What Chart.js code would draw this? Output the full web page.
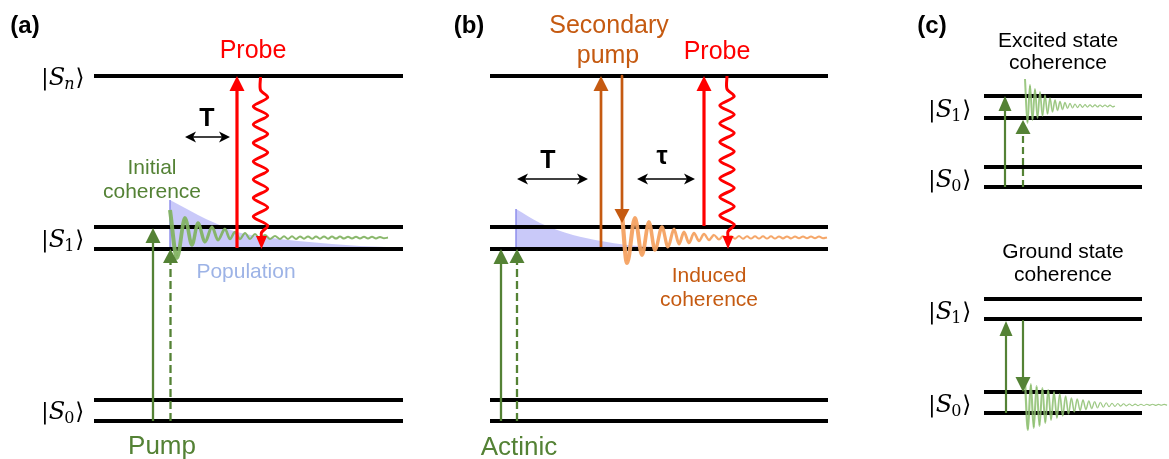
<!DOCTYPE html>
<html><head><meta charset="utf-8">
<script src="https://cdn.jsdelivr.net/npm/chart.js@4/dist/chart.umd.min.js"></script>
<style>html,body{margin:0;padding:0;background:#fff}#wrap{width:1169px;height:459px;position:relative}</style>
</head><body><div id="wrap"><canvas id="c"></canvas></div>
<script>
// ===== data (diagram units = reference pixels) =====
const levelSpanA = [94, 403];
const levelSpanB = [490, 828];
const levelSpanC = [984, 1142];
const levelsAB = [76, 227, 249, 400, 421];
const levelsCTop = [96, 118, 167, 187];
const levelsCBottom = [299, 319, 392, 413];

// population decay envelopes (x, top)
const populationA = [[170,200],[185,208],[198,215],[215,223],[237,232],[265,237],[298,241],[332,244],[360,246],[400,247.5]];
const populationB = [[516,209],[540,223],[573,235],[601,241],[627,245],[660,247],[700,248]];
const populationBase = 249;

// coherence oscillations: extrema (x, y)
const coherenceA = [[170,210],[177,258],[185,218],[192,245],[198,223],[205,242],[212,227],[218,240],[225,229],[230,239],[235,232],[240,239],[245,233],[250,239],[255,234],[260,239],[265,235],[270,239],[275,236],[280,238.9],[284,236.3],[288,238.9],[292,236.3],[296,238.9],[300,236.4],[304,238.8],[308,236.4],[312,238.8],[316,236.5],[320,238.7],[324,236.5],[328,238.7],[332,236.6],[336,238.6],[340,236.6],[344,238.6],[348,236.7],[352,238.5],[356,236.7],[360,238.5],[364,236.8],[368,238.4],[372,236.8],[376,238.4],[380,236.9],[384,238.3],[388,237.6]];
const coherenceB = [[622,214],[627,263],[635,218],[642,255],[649,222],[655,250],[662,227],[668,247],[674,229],[679,244],[684,232],[689,243],[694,233],[699,241],[704,234],[709,240],[714,235],[719,239.5],[723,236],[727,238.8],[731,236.1],[735,238.7],[739,236.1],[743,238.7],[747,236.2],[751,238.6],[755,236.2],[759,238.6],[763,236.3],[767,238.5],[771,236.3],[775,238.5],[779,236.4],[783,238.4],[787,236.4],[791,238.4],[795,236.5],[799,238.3],[803,236.5],[807,238.3],[811,236.6],[815,238.2],[819,236.6],[823,238.2],[827,237.4]];
const coherenceCExcited = [[1025,79],[1027.5,123],[1030,85],[1032.5,120],[1035,89],[1037.5,118],[1040,92],[1042.5,116],[1045,95],[1047.5,114],[1050,98],[1052.5,112],[1055,100],[1057.5,110.5],[1060,101.5],[1062.5,109.5],[1065,102.5],[1067.5,108.5],[1070,103.3],[1072.5,108],[1075,104],[1077.5,107.6],[1080,104.4],[1082.5,107.3],[1085,104.7],[1087.5,107.1],[1090,104.8],[1092.5,107],[1095,104.9],[1097.5,107],[1100,105],[1102.5,106.9],[1105,105],[1107.5,106.9],[1110,105.1],[1112.5,106.8],[1115,106]];
const coherenceCGround = [[1025,381],[1027.9,430],[1030.8,384],[1033.7,428],[1036.6,386],[1039.5,426],[1042.4,388],[1045.3,423],[1048.2,390],[1051.1,420],[1054,392],[1056.9,418],[1059.8,394],[1062.7,416],[1065.6,396],[1068.5,414],[1071.4,398],[1074.3,412],[1077.2,399],[1080.1,410.5],[1083,400],[1085.9,409.5],[1088.8,401],[1091.7,408.5],[1094.6,401.7],[1097.5,407.8],[1100.4,402.3],[1103.3,407.2],[1106.2,402.8],[1109.1,406.8],[1112,403.2],[1114.9,406.4],[1117.8,403.5],[1120.7,406.1],[1123.6,403.8],[1126.5,405.9],[1129.4,404],[1132.3,405.7],[1135.2,404.1],[1138.1,405.6],[1141,404.2],[1143.9,405.5],[1146.8,404.3],[1149.7,405.4],[1152.6,404.3],[1155.5,405.4],[1158.4,404.4],[1161.3,405.3],[1164.2,404.4],[1167.1,405.2]];

// vertical transitions: [x, from y, to y (arrow tip)]
const pumpSolid = [[153,421,228],[501,421,249]];
const pumpDashed = [[170.5,421,249],[517,421,249]];
const pumpSolidC = [[1005,187,96],[1006,413,321]];
const pumpDashedC = [[1023,187,120]];
const dumpC = [[1023,321,392]];
const probeUp = [[237,248,76],[704,226,76]];
const secondaryUp = [[601,247,76]];
const secondaryDown = [[622,76,223]];
const probeWavy = [[260.5,77,249],[727,76,249]];
const zigzag = [[0,0],[0,13],[7.2,20.5],[-7.2,29.5],[7.2,38.5],[-7.2,47.5],[7.2,57],[-7.2,66],[7.2,75.5],[-7.2,84.5],[7.2,93.5],[-7.2,102.5],[7.2,112],[-7.2,121],[7.2,130.5],[-7.2,139.5],[7.2,148.5],[1,155.5],[1,161]];
// delay double arrows [x0, x1, y]
const delays = [[185,230,137],[517,588,179],[637,695,179]];

// ket labels [subscript, left x, level centre y]
const ketsA = [['n',41,76],['1',41,238],['0',41,410.5]];
const ketsC = [['1',928,107],['0',928,177],['1',928,309],['0',928,402.5]];

// text labels [text, x centre, baseline y]
const textBlack = [['Excited state',1058,47],['coherence',1058,69],['Ground state',1063,258],['coherence',1063,281]];
const textPanel = [['(a)',25,33],['(b)',469,33],['(c)',932,33]];
const textDelay = [['T',207,126],['T',548,168],['τ',662,164]];
const textProbe = [['Probe',253,58],['Probe',717,59]];
const textSecondary = [['Secondary',609,33],['pump',608,63]];
const textInduced = [['Induced',709,282],['coherence',709,306]];
const textGreenBig = [['Pump',162,454],['Actinic',519,455]];
const textGreenSmall = [['Initial',152,174],['coherence',152,198]];
const textPopulation = [['Population',246,278]];

// ===== styles =====
const GREEN = '#548235', ORANGE = '#c55a11', RED = '#ff0000';
const SANS = '"Liberation Sans", Arial, sans-serif';
const SERIF = '"DejaVu Serif", "DejaVu Sans", serif';

const datasets = [];
function pts(a){ return a.map(p => ({x:p[0], y:p[1]})); }
function addLine(points, style){
  datasets.push(Object.assign({data: pts(points), showLine:true, pointRadius:0, pointHoverRadius:0,
    fill:false, borderCapStyle:'butt', borderJoinStyle:'round', tension:0}, style));
}
const heads = []; // [tipX, tipY, dirX, dirY, len, width, color, notch]

// populations
addLine(populationA, {fill:{value:populationBase}, backgroundColor:'rgba(168,168,246,0.62)', borderWidth:0, cubicInterpolationMode:'monotone'});
addLine(populationB, {fill:{value:populationBase}, backgroundColor:'rgba(168,168,246,0.62)', borderWidth:0, cubicInterpolationMode:'monotone'});
addLine([[170,200],[170,249]], {borderColor:'rgba(140,140,235,0.7)', borderWidth:1});
addLine([[516,209],[516,249]], {borderColor:'rgba(140,140,235,0.7)', borderWidth:1});

// levels
levelsAB.forEach(y => { addLine([[levelSpanA[0],y],[levelSpanA[1],y]], {borderColor:'#000', borderWidth:4});
                        addLine([[levelSpanB[0],y],[levelSpanB[1],y]], {borderColor:'#000', borderWidth:4}); });
levelsCTop.concat(levelsCBottom).forEach(y => addLine([[levelSpanC[0],y],[levelSpanC[1],y]], {borderColor:'#000', borderWidth:4}));

// coherence waves
function taper(x0, span, w0, w1){ return ctx => { const t = Math.min(1, Math.max(0,(ctx.p0.parsed.x - x0)/span)); return w0 + (w1-w0)*t; }; }
addLine(coherenceA, {borderColor:'rgba(128,178,96,0.92)', borderWidth:3, cubicInterpolationMode:'monotone', segment:{borderWidth:taper(170,80,4,2)}});
addLine(coherenceB, {borderColor:'rgba(244,162,98,0.95)', borderWidth:3, cubicInterpolationMode:'monotone', segment:{borderWidth:taper(622,100,4.2,2)}});
addLine(coherenceCExcited, {borderColor:'rgba(140,190,110,0.85)', borderWidth:1.5, cubicInterpolationMode:'monotone', segment:{borderWidth:taper(1025,50,2,1.2)}});
addLine(coherenceCGround, {borderColor:'rgba(140,190,110,0.85)', borderWidth:1.5, cubicInterpolationMode:'monotone', segment:{borderWidth:taper(1025,80,2.2,1.1)}});

// straight arrows
function addArrows(list, color, width, hl, hw, dash){
  list.forEach(a => {
    const dir = Math.sign(a[2]-a[1]);
    addLine([[a[0],a[1]],[a[0],a[2]-dir*hl*0.7]], {borderColor:color, borderWidth:width, borderDash:dash||[]});
    heads.push([a[0], a[2], 0, dir, hl, hw, color, 0]);
  });
}
addArrows(pumpSolid, GREEN, 2.3, 15, 15);
addArrows(pumpDashed, GREEN, 2.3, 14, 15, [8,4]);
addArrows(pumpSolidC, GREEN, 2.2, 15, 13);
addArrows(pumpDashedC, GREEN, 2.2, 14, 15, [7,4]);
addArrows(dumpC, GREEN, 2.2, 15, 15);
addArrows(probeUp, RED, 3.2, 15, 15);
addArrows(secondaryUp, ORANGE, 2.7, 15, 15);
addArrows(secondaryDown, ORANGE, 2.7, 14, 15);

// wavy probe arrows
probeWavy.forEach(a => {
  const p = zigzag.map(o => [a[0]+o[0], a[1]+o[1]]);
  addLine(p, {borderColor:RED, borderWidth:3, tension:0.3});
  heads.push([a[0]+1, a[2], 0, 1, 13, 11, RED, 0]);
});

// delay arrows
delays.forEach(d => {
  addLine([[d[0]+6,d[2]],[d[1]-6,d[2]]], {borderColor:'#000', borderWidth:1.5});
  heads.push([d[0], d[2], -1, 0, 11, 11, '#000', 3]);
  heads.push([d[1], d[2], 1, 0, 11, 11, '#000', 3]);
});

datasets.forEach((d,i) => d.order = 1000 - i);

const overlay = {
  id:'overlay',
  afterDatasetsDraw(chart){
    const ctx = chart.ctx, xs = chart.scales.x, ys = chart.scales.y;
    const X = v => xs.getPixelForValue(v), Y = v => ys.getPixelForValue(v);
    ctx.save();
    heads.forEach(h => {
      const tx = X(h[0]), ty = Y(h[1]), dx = h[2], dy = h[3], L = h[4], W = h[5];
      const bx = tx - dx*L, by = ty - dy*L, px = -dy, py = dx;
      ctx.fillStyle = h[6];
      ctx.beginPath();
      ctx.moveTo(tx, ty);
      ctx.lineTo(bx + px*W/2, by + py*W/2);
      if (h[7]) ctx.lineTo(bx + dx*h[7], by + dy*h[7]);
      ctx.lineTo(bx - px*W/2, by - py*W/2);
      ctx.closePath(); ctx.fill();
    });
    function texts(list, font, color){
      ctx.font = font; ctx.fillStyle = color; ctx.textAlign = 'center'; ctx.textBaseline = 'alphabetic';
      list.forEach(t => ctx.fillText(t[0], X(t[1]), Y(t[2])));
    }
    texts(textPanel, 'bold 24px ' + SANS, '#000');
    texts(textDelay, 'bold 25px ' + SANS, '#000');
    texts(textProbe, '25px ' + SANS, RED);
    texts(textSecondary, '25px ' + SANS, ORANGE);
    texts(textInduced, '21px ' + SANS, ORANGE);
    texts(textGreenBig, '26px ' + SANS, GREEN);
    texts(textGreenSmall, '21px ' + SANS, GREEN);
    texts(textPopulation, '21px ' + SANS, '#9db3e6');
    texts(textBlack, '21px ' + SANS, '#000');
    function ket(k, off){
      let x = X(k[1]); const base = Y(k[2]) + off;
      ctx.fillStyle = '#000'; ctx.textAlign = 'left'; ctx.textBaseline = 'alphabetic';
      ctx.font = '23px ' + SERIF; ctx.fillText('|', x, base); x += ctx.measureText('|').width;
      ctx.font = 'italic 24px ' + SERIF; ctx.fillText('S', x, base); x += ctx.measureText('S').width - 1;
      ctx.font = (k[0]==='n' ? 'italic ' : '') + '16px ' + SERIF; ctx.fillText(k[0], x, base + 4); x += ctx.measureText(k[0]).width + 1;
      ctx.font = '23px ' + SERIF; ctx.fillText('\u27E9', x, base);
    }
    ketsA.forEach(k => ket(k, 8.5));
    ketsC.forEach(k => ket(k, 9.5));
    ctx.restore();
  }
};

new Chart(document.getElementById('c'), {
  type:'scatter',
  data:{datasets},
  options:{
    responsive:true, maintainAspectRatio:false, animation:false,
    layout:{padding:0},
    events:[],
    scales:{
      x:{type:'linear', min:0, max:1169, display:false},
      y:{type:'linear', min:0, max:459, reverse:true, display:false}
    },
    plugins:{legend:{display:false}, tooltip:{enabled:false}}
  },
  plugins:[overlay]
});
</script>
</body></html>
